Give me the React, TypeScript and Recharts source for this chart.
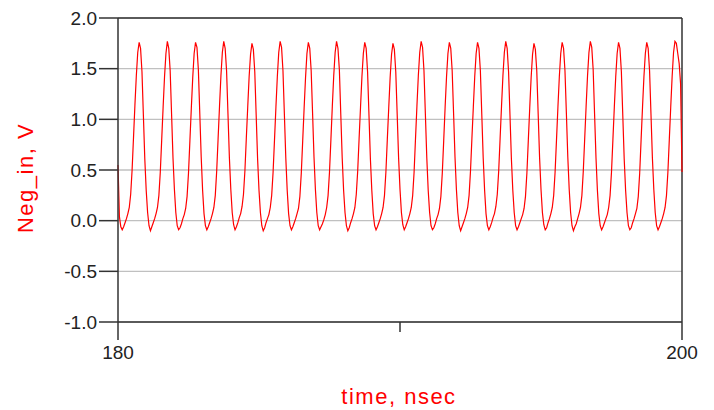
import { CartesianGrid, Line, LineChart, ReferenceLine, XAxis, YAxis } from 'recharts';

// sample spacing of the transient data (ns)
const tStart = 180;
const tStep = 0.05;

// Neg_in (V), one row per 1 ns cycle, samples every 0.05 ns
const negIn = [
  0.55, 0.04, -0.06, -0.09, -0.06, -0.02, 0.02, 0.07, 0.13, 0.26, 0.50, 0.82, 1.14, 1.43, 1.66, 1.76, 1.70, 1.47, 1.04, 0.61,
  0.30, 0.08, -0.05, -0.10, -0.06, -0.02, 0.02, 0.07, 0.13, 0.25, 0.48, 0.80, 1.12, 1.42, 1.65, 1.77, 1.70, 1.48, 1.05, 0.62,
  0.31, 0.08, -0.05, -0.09, -0.07, -0.03, 0.02, 0.06, 0.12, 0.24, 0.47, 0.79, 1.11, 1.41, 1.65, 1.76, 1.71, 1.49, 1.06, 0.63,
  0.30, 0.07, -0.05, -0.09, -0.06, -0.02, 0.02, 0.07, 0.13, 0.25, 0.49, 0.81, 1.13, 1.43, 1.66, 1.77, 1.70, 1.48, 1.05, 0.62,
  0.31, 0.08, -0.04, -0.09, -0.06, -0.02, 0.03, 0.07, 0.14, 0.26, 0.49, 0.81, 1.12, 1.42, 1.64, 1.75, 1.69, 1.47, 1.04, 0.61,
  0.30, 0.08, -0.05, -0.10, -0.07, -0.02, 0.02, 0.06, 0.13, 0.25, 0.48, 0.80, 1.12, 1.42, 1.66, 1.77, 1.71, 1.48, 1.05, 0.62,
  0.30, 0.07, -0.05, -0.09, -0.06, -0.02, 0.02, 0.07, 0.12, 0.24, 0.47, 0.79, 1.11, 1.41, 1.65, 1.76, 1.70, 1.48, 1.06, 0.63,
  0.31, 0.08, -0.05, -0.09, -0.06, -0.03, 0.01, 0.06, 0.13, 0.25, 0.48, 0.80, 1.13, 1.43, 1.66, 1.77, 1.70, 1.49, 1.05, 0.62,
  0.30, 0.08, -0.05, -0.10, -0.07, -0.02, 0.02, 0.07, 0.13, 0.26, 0.49, 0.81, 1.12, 1.42, 1.65, 1.76, 1.70, 1.47, 1.04, 0.61,
  0.30, 0.07, -0.05, -0.09, -0.06, -0.02, 0.02, 0.07, 0.13, 0.25, 0.48, 0.80, 1.11, 1.41, 1.64, 1.75, 1.69, 1.47, 1.05, 0.62,
  0.31, 0.08, -0.04, -0.09, -0.06, -0.02, 0.02, 0.07, 0.13, 0.25, 0.48, 0.81, 1.13, 1.43, 1.66, 1.77, 1.71, 1.48, 1.05, 0.62,
  0.30, 0.08, -0.05, -0.09, -0.07, -0.03, 0.02, 0.06, 0.12, 0.24, 0.47, 0.79, 1.12, 1.42, 1.65, 1.76, 1.70, 1.48, 1.06, 0.63,
  0.31, 0.08, -0.05, -0.10, -0.06, -0.02, 0.02, 0.07, 0.13, 0.25, 0.49, 0.81, 1.12, 1.42, 1.65, 1.76, 1.70, 1.48, 1.05, 0.62,
  0.30, 0.07, -0.05, -0.09, -0.06, -0.02, 0.03, 0.07, 0.14, 0.26, 0.49, 0.81, 1.13, 1.43, 1.66, 1.77, 1.70, 1.47, 1.04, 0.61,
  0.30, 0.08, -0.05, -0.09, -0.06, -0.02, 0.02, 0.06, 0.12, 0.24, 0.47, 0.79, 1.11, 1.41, 1.64, 1.75, 1.69, 1.48, 1.05, 0.62,
  0.31, 0.08, -0.04, -0.09, -0.07, -0.02, 0.02, 0.07, 0.13, 0.25, 0.48, 0.80, 1.12, 1.42, 1.65, 1.76, 1.70, 1.48, 1.06, 0.63,
  0.31, 0.08, -0.05, -0.10, -0.06, -0.03, 0.02, 0.07, 0.13, 0.25, 0.49, 0.81, 1.13, 1.43, 1.66, 1.77, 1.71, 1.49, 1.05, 0.62,
  0.30, 0.07, -0.05, -0.09, -0.06, -0.02, 0.02, 0.06, 0.13, 0.25, 0.48, 0.80, 1.12, 1.42, 1.65, 1.76, 1.70, 1.47, 1.04, 0.61,
  0.30, 0.08, -0.05, -0.09, -0.07, -0.02, 0.02, 0.07, 0.12, 0.24, 0.47, 0.80, 1.12, 1.42, 1.65, 1.76, 1.70, 1.48, 1.05, 0.62,
  0.31, 0.08, -0.05, -0.09, -0.06, -0.02, 0.02, 0.07, 0.13, 0.25, 0.48, 0.80, 1.12, 1.42, 1.66, 1.77, 1.75, 1.65, 1.55, 1.35,
  0.48,
];

const yTicks = [-1, -0.5, 0, 0.5, 1, 1.5, 2];
const xTicks = [180, 190, 200];
const xLabelTicks = [180, 200];

const data = negIn.map((v, i) => ({ t: +(tStart + i * tStep).toFixed(2), v }));

const FONT = '"Liberation Sans", Arial, sans-serif';
const AXIS = '#333333';

const XTick = (props: any) => {
  const { x, y, payload } = props;
  const labelled = xLabelTicks.includes(payload.value);
  return (
    <g>
      <line x1={x} x2={x} y1={y} y2={y + (labelled ? 18 : 10)} stroke={AXIS} strokeWidth={1.5} />
      {labelled && (
        <text x={x} y={y + 37} textAnchor="middle" fontSize={19} fontFamily={FONT} fill="#222">
          {payload.value}
        </text>
      )}
    </g>
  );
};

export default function App() {
  return (
    <div style={{ position: 'absolute', left: 0, top: 0, background: '#fff' }}>
      <LineChart width={714} height={410} data={data} margin={{ top: 18, right: 32, bottom: 0, left: 0 }}>
        <CartesianGrid vertical={false} stroke="#c0c0c0" strokeWidth={1.3} />
        <XAxis
          dataKey="t"
          type="number"
          domain={[180, 200]}
          ticks={xTicks}
          height={88}
          tickSize={0}
          tickMargin={0}
          tickLine={false}
          tick={XTick}
          axisLine={{ stroke: AXIS, strokeWidth: 1.5 }}
          label={{
            value: 'time, nsec',
            content: () => (
              <text x={399} y={404} textAnchor="middle" fontSize={22} letterSpacing={1.5} fontFamily={FONT} fill="#ff0000">
                time, nsec
              </text>
            ),
          }}
        />
        <YAxis
          type="number"
          domain={[-1, 2]}
          ticks={yTicks}
          width={118}
          tickSize={19}
          tickMargin={2}
          tickFormatter={(v: number) => v.toFixed(1)}
          tick={{ fill: '#222', fontSize: 19, fontFamily: FONT }}
          tickLine={{ stroke: AXIS, strokeWidth: 1.5 }}
          axisLine={{ stroke: AXIS, strokeWidth: 1.5 }}
          label={{
            value: 'Neg_in, V',
            content: () => (
              <text
                x={33}
                y={178}
                transform="rotate(-90 33 178)"
                textAnchor="middle"
                fontSize={22}
                letterSpacing={1.5}
                fontFamily={FONT}
                fill="#ff0000"
              >
                Neg_in, V
              </text>
            ),
          }}
        />
        <ReferenceLine y={2} stroke={AXIS} strokeWidth={1.5} />
        <ReferenceLine x={200} stroke={AXIS} strokeWidth={1.5} />
        <Line
          type="linear"
          dataKey="v"
          stroke="#ff0000"
          strokeWidth={1.2}
          dot={false}
          isAnimationActive={false}
        />
      </LineChart>
    </div>
  );
}
